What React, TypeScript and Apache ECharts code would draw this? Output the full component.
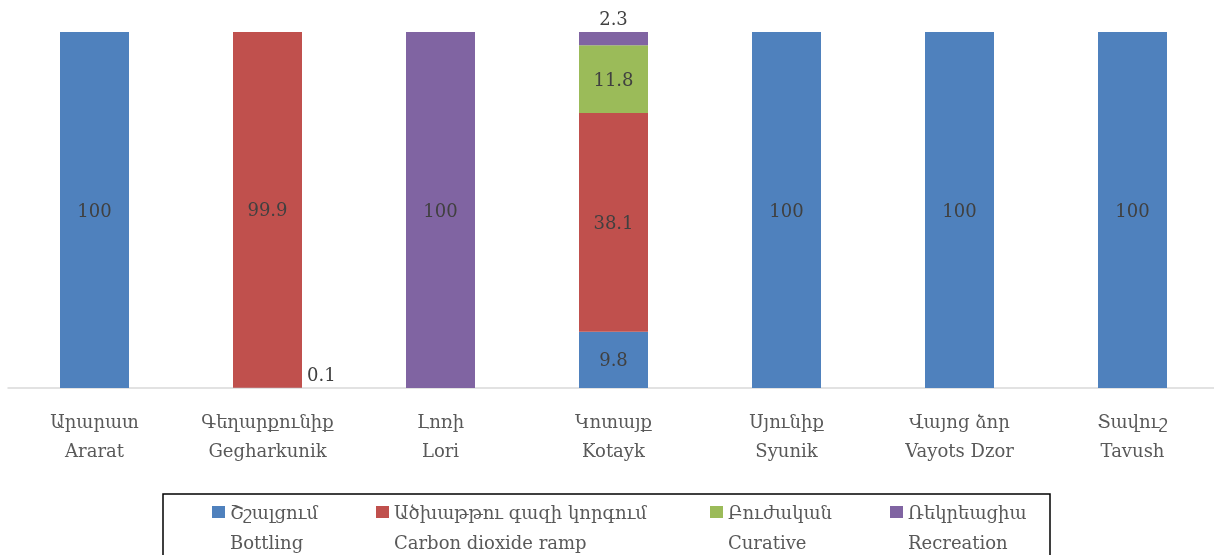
import React, { useEffect, useRef } from "react";
import * as echarts from "echarts";

const categories = [
  "Արարատ\nArarat",
  "Գեղարքունիք\nGegharkunik",
  "Լոռի\nLori",
  "Կոտայք\nKotayk",
  "Սյունիք\nSyunik",
  "Վայոց ձոր\nVayots Dzor",
  "Տավուշ\nTavush",
];

const seriesNames = [
  "Շշալցում\nBottling",
  "Ածխաթթու գազի կորգում\nCarbon dioxide ramp",
  "Բուժական\nCurative",
  "Ռեկրեացիա\nRecreation",
];

const bottling = [100, 0.1, 0, 9.8, 100, 100, 100];
const carbonDioxide = [0, 99.9, 0, 38.1, 0, 0, 0];
const curative = [0, 0, 0, 11.8, 0, 0, 0];
const recreation = [0, 0, 100, 2.3, 0, 0, 0];

const colors = ["#4F81BD", "#C0504D", "#9BBB59", "#8064A2"];
const legendLefts = [212, 376, 710, 890];

const FONT = "'DejaVu Serif', 'Liberation Serif', serif";

export default function App() {
  const ref = useRef<HTMLDivElement>(null);
  useEffect(() => {
    if (!ref.current) return;
    const chart = echarts.init(ref.current, null, { renderer: "svg" });
    const all = [bottling, carbonDioxide, curative, recreation];
    const totals = categories.map((_, i) => all.reduce((s, a) => s + a[i], 0));

    const series = all.map((arr, si) => ({
      name: seriesNames[si],
      type: "bar",
      stack: "total",
      barWidth: 69,
      itemStyle: { color: colors[si] },
      label: {
        show: true,
        position: "inside",
        color: "#404040",
        fontSize: 18,
        fontFamily: FONT,
        formatter: (p: any) => (p.data && p.data.raw ? String(p.data.raw) : ""),
      },
      data: arr.map((v, i) => {
        if (!v) return { value: null, raw: 0 };
        const item: any = { value: (v / totals[i]) * 100, raw: v };
        if (si === 0 && i === 1) {
          item.label = { position: "right", distance: 5, offset: [0, -13] };
        }
        if (si === 3 && i === 3) {
          item.label = { position: "top", distance: 5 };
        }
        return item;
      }),
    }));

    chart.setOption({
      animation: false,
      color: colors,
      grid: { left: 8, top: 32, width: 1211, height: 356, outerBoundsMode: "none", containLabel: false },
      legend: seriesNames.map((n, i) => ({
        data: [n],
        left: legendLefts[i],
        top: 467,
        padding: 0,
        itemWidth: 13,
        itemHeight: 12,
        icon: "rect",
        selectedMode: false,
        formatter: (name: string) => "\n" + name,
        textStyle: {
          fontFamily: FONT,
          fontSize: 18,
          color: "#595959",
          lineHeight: 30,
        },
      })),
      graphic: [
        {
          type: "rect",
          shape: { x: 163, y: 494, width: 887, height: 80 },
          style: { fill: "none", stroke: "#000", lineWidth: 1.5 },
        },
      ],
      xAxis: {
        type: "category",
        data: categories,
        axisLine: { lineStyle: { color: "#D9D9D9", width: 1.5 } },
        axisTick: { show: false },
        axisLabel: {
          color: "#595959",
          fontSize: 18,
          fontFamily: FONT,
          lineHeight: 29,
          margin: 19,
        },
      },
      yAxis: {
        type: "value",
        min: 0,
        max: 100,
        show: false,
        splitLine: { show: false },
      },
      series,
    });
    return () => chart.dispose();
  }, []);
  return (
    <div
      ref={ref}
      style={{ position: "fixed", left: 0, top: 0, width: 1214, height: 555 }}
    />
  );
}
